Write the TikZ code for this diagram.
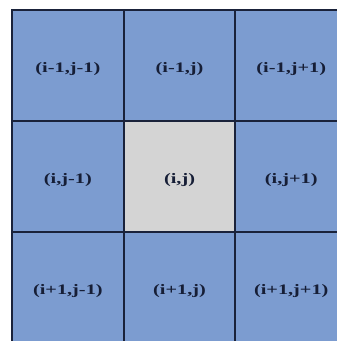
\documentclass[tikz,border=0pt]{standalone}
\usepackage{fontspec}
\setmainfont{Liberation Serif}
\usepackage{graphicx}
\definecolor{cellblue}{RGB}{124,156,208}
\definecolor{cellgray}{RGB}{212,212,212}
\definecolor{gridline}{RGB}{26,34,58}
\definecolor{labeltext}{RGB}{22,30,54}
\newcommand{\celltext}[1]{\scalebox{1.4}[1]{\fontsize{14.5}{14.5}\selectfont\bfseries #1}}
\begin{document}
\begin{tikzpicture}[x=1pt,y=-1pt,
  cellbox/.style={draw=gridline, line width=2pt, fill=cellblue, rectangle,
    minimum width=111.7pt, minimum height=111pt, inner sep=0pt,
    text=labeltext, text height=18pt, text depth=3.2pt},
  centerbox/.style={cellbox, fill=cellgray}]
\useasboundingbox (0,0) rectangle (337,341);
\begin{scope}
\clip (0,0) rectangle (337,341);
\node[cellbox] (c11) at (67.85,65.5) {\celltext{(i-1,j-1)}};
\node[cellbox] (c12) at (179.55,65.5) {\celltext{(i-1,j)}};
\node[cellbox] (c13) at (291.25,65.5) {\celltext{(i-1,j+1)}};
\node[cellbox] (c21) at (67.85,176.5) {\celltext{(i,j-1)}};
\node[centerbox] (c22) at (179.55,176.5) {\celltext{(i,j)}};
\node[cellbox] (c23) at (291.25,176.5) {\celltext{(i,j+1)}};
\node[cellbox] (c31) at (67.85,287.5) {\celltext{(i+1,j-1)}};
\node[cellbox] (c32) at (179.55,287.5) {\celltext{(i+1,j)}};
\node[cellbox] (c33) at (291.25,287.5) {\celltext{(i+1,j+1)}};
\end{scope}
\end{tikzpicture}
\end{document}
